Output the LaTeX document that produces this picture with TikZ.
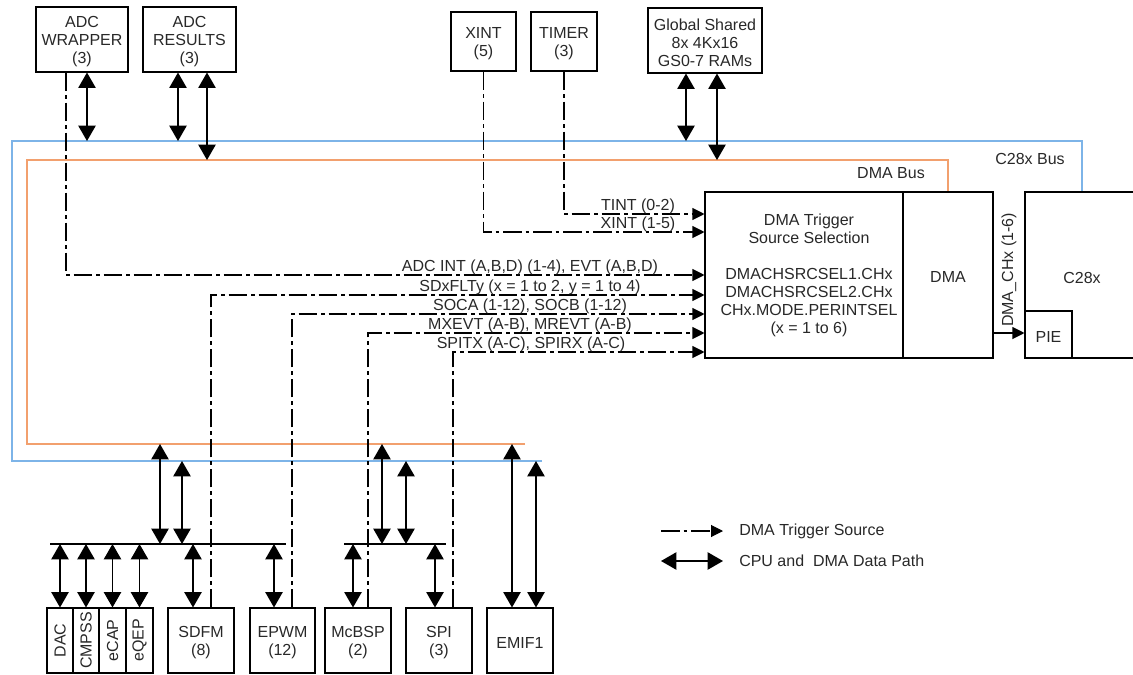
\documentclass[tikz,border=0pt]{standalone}
\usepackage{fontspec}
\setmainfont{Liberation Sans}
\usetikzlibrary{arrows.meta,fit,calc}
\definecolor{cbus}{RGB}{125,180,232}
\definecolor{dbus}{RGB}{242,160,110}
\definecolor{txt}{RGB}{40,40,40}
\begin{document}
\begin{tikzpicture}[x=0.75pt,y=-0.75pt,
  font=\fontsize{12}{13.5}\selectfont, text=txt,
  box/.style={draw=black, line width=0.8pt, inner sep=0pt},
  btxt/.style={align=center, inner sep=0pt, yshift=-1.5pt},
  data/.style={line width=0.9pt, {Triangle[width=13pt,length=11.5pt]}-{Triangle[width=13pt,length=11.5pt]}},
  trig/.style={line width=0.8pt, dash pattern=on 14pt off 3pt on 2.5pt off 3pt, -{Triangle[width=9pt,length=9pt]}},
  sarrow/.style={line width=0.8pt, -{Triangle[width=9pt,length=9pt]}},
  bus/.style={line width=1.9pt},
  bar/.style={line width=1.7pt},
  lbl/.style={anchor=base, inner sep=0pt}]

\useasboundingbox (0,0) rectangle (1133,675);

% top boxes
\node[box, fit={(36,7)(128,72)}] (adcw) {};
\node[btxt] at (adcw.center) {ADC\\WRAPPER\\(3)};
\node[box, fit={(143,7)(236,72)}] (adcr) {};
\node[btxt] at (adcr.center) {ADC\\RESULTS\\(3)};
\node[box, fit={(451,12)(516,71)}] (xint) {};
\node[btxt] at (xint.center) {XINT\\(5)};
\node[box, fit={(531,12)(597,71)}] (timer) {};
\node[btxt] at (timer.center) {TIMER\\(3)};
\node[box, fit={(648,8)(762,73)}] (gs) {};
\node[btxt] at (gs.center) {Global Shared\\8x 4Kx16\\GS0-7 RAMs};

% DMA blocks
\node[box, fit={(705,192)(903,358)}] (trig) {};
\node[btxt] (trigtxt) at (809,273) {DMA Trigger\\Source Selection\\[13.5pt]DMACHSRCSEL1.CHx\\DMACHSRCSEL2.CHx\\CHx.MODE.PERINTSEL\\(x = 1 to 6)};
\node[box, fit={(903,192)(993,358)}] (dma) {};
\node[btxt] at (dma.center) {DMA};
\node[box, fit={(1025,192)(1145,358)}] (c28) {};
\node[btxt] (c28txt) at (1082,276) {C28x};
\node[box, fit={(1025,311)(1072,358)}] (pie) {};
\node[btxt] at (pie.center) {PIE};

% bottom boxes
\node[box, fit={(47,608)(73,673)}] (dac) {};
\node[box, fit={(73,608)(99,673)}] (cmpss) {};
\node[box, fit={(99,608)(126,673)}] (ecap) {};
\node[box, fit={(126,608)(153,673)}] (eqep) {};
\node[rotate=90, inner sep=0pt] (dact) at (dac.center) {DAC};
\node[rotate=90, inner sep=0pt] (cmpsst) at (cmpss.center) {CMPSS};
\node[rotate=90, inner sep=0pt] (ecapt) at (ecap.center) {eCAP};
\node[rotate=90, inner sep=0pt] (eqept) at (eqep.center) {eQEP};
\node[box, fit={(168,608)(234,673)}] (sdfm) {};
\node[btxt] at (sdfm.center) {SDFM\\(8)};
\node[box, fit={(250,608)(315,673)}] (epwm) {};
\node[btxt] at (epwm.center) {EPWM\\(12)};
\node[box, fit={(325,608)(391,673)}] (mcbsp) {};
\node[btxt] at (mcbsp.center) {McBSP\\(2)};
\node[box, fit={(406,608)(472,673)}] (spi) {};
\node[btxt] at (spi.center) {SPI\\(3)};
\node[box, fit={(487,608)(553,673)}] (emif) {};
\node[btxt] at (emif.center) {EMIF1};

% bus coordinates
\coordinate (cTop) at (0,141);
\coordinate (dTop) at (0,160);
\coordinate (dBot) at (0,444);
\coordinate (cBot) at (0,461);
\coordinate (barY) at (0,544);

% buses
\draw[bus, cbus] (542,461) -- (12,461) -- (12,141) -- (1082,141) -- (1082,0 |- c28.north);
\draw[bus, dbus] (525,444) -- (27,444) -- (27,160) -- (948,160) -- (948,0 |- dma.north);
\node (cbl) at (1030,159) {C28x Bus};
\node (dbl) at (891,173) {DMA Bus};

% bars
\draw[bar] (50,544) -- (286,544);
\draw[bar] (344,544) -- (446,544);

% trigger lines
\draw[trig] (66,0 |- adcw.south) |- (trig.west |- 0,275);
\draw[trig] (xint.south) |- (trig.west |- 0,232);
\draw[trig] (timer.south) |- (trig.west |- 0,214);
\draw[trig] (211,0 |- sdfm.north) |- (trig.west |- 0,295);
\draw[trig] (292,0 |- epwm.north) |- (trig.west |- 0,314);
\draw[trig] (368,0 |- mcbsp.north) |- (trig.west |- 0,333);
\draw[trig] (453,0 |- spi.north) |- (trig.west |- 0,352);

\node[lbl] at (638,210.5) {TINT (0-2)};
\node[lbl] at (638,228.5) {XINT (1-5)};
\node[lbl] at (530,271) {ADC INT (A,B,D) (1-4), EVT (A,B,D)};
\node[lbl] at (530,291) {SDxFLTy (x = 1 to 2, y = 1 to 4)};
\node[lbl] at (530,310.5) {SOCA (1-12), SOCB (1-12)};
\node[lbl] at (530,329) {MXEVT (A-B), MREVT (A-B)};
\node[lbl] at (531,348) {SPITX (A-C), SPIRX (A-C)};

% DMA to PIE
\draw[sarrow] (dma.east |- 0,333) -- (pie.west |- 0,333);
\node[rotate=90, inner sep=0pt] (chx) at (1009,270) {DMA\_CHx (1-6)};

% data arrows top
\draw[data] (87,0 |- adcw.south) -- (87,0 |- cTop);
\draw[data] (178,0 |- adcr.south) -- (178,0 |- cTop);
\draw[data] (207,0 |- adcr.south) -- (207,0 |- dTop);
\draw[data] (686,0 |- gs.south) -- (686,0 |- cTop);
\draw[data] (717,0 |- gs.south) -- (717,0 |- dTop);

% data arrows bottom
\draw[data] (160,0 |- barY) -- (160,0 |- dBot);
\draw[data] (182,0 |- barY) -- (182,0 |- cBot);
\draw[data] (382,0 |- barY) -- (382,0 |- dBot);
\draw[data] (406,0 |- barY) -- (406,0 |- cBot);
\draw[data] (dac.north |- barY) -- (dac.north);
\draw[data] (cmpss.north |- barY) -- (cmpss.north);
\draw[data] (ecap.north |- barY) -- (ecap.north);
\draw[data] (eqep.north |- barY) -- (eqep.north);
\draw[data] (193,0 |- barY) -- (193,0 |- sdfm.north);
\draw[data] (274,0 |- barY) -- (274,0 |- epwm.north);
\draw[data] (353,0 |- barY) -- (353,0 |- mcbsp.north);
\draw[data] (435,0 |- barY) -- (435,0 |- spi.north);
\draw[data] (512,0 |- emif.north) -- (512,0 |- dBot);
\draw[data] (536,0 |- emif.north) -- (536,0 |- cBot);

% legend
\coordinate (l1a) at (661,531); \coordinate (l1b) at (723,531);
\coordinate (l2a) at (661,561); \coordinate (l2b) at (723,561);
\draw[trig] (l1a) -- (l1b);
\draw[data] (l2a) -- (l2b);
\node[anchor=west, inner sep=0pt] (lt1) at (739,531) {DMA Trigger Source};
\node[anchor=west, inner sep=0pt] (lt2) at (739,561) {CPU and\ \ DMA Data Path};
\end{tikzpicture}
\end{document}
